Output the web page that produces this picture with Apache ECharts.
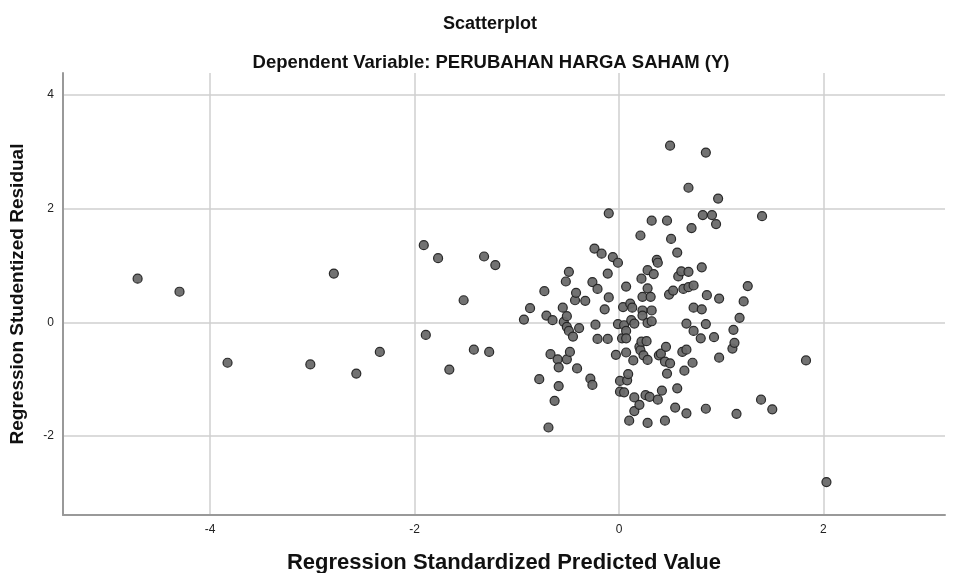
<!DOCTYPE html>
<html>
<head>
<meta charset="utf-8">
<script src="https://cdn.jsdelivr.net/npm/echarts@6/dist/echarts.min.js"></script>
<style>
  html, body { margin: 0; padding: 0; background: #fff; overflow: hidden; }
  #main { width: 959px; height: 573px; }
</style>
</head>
<body>
<div id="main"></div>
<script>
// values (x = predicted, y = residual)
const predicted = [
  -4.71, -4.30, -3.83, -3.02, -2.79, -2.57, -2.34, -1.91, -1.89, -1.77,
  -1.66, -1.52, -1.42, -1.32, -1.27, -1.21, -0.93, -0.87, -0.78, -0.73,
  -0.71, -0.69, -0.67, -0.65, -0.63, -0.60, -0.59, -0.59, -0.55, -0.54,
  -0.51, -0.51, -0.52, -0.51, -0.49, -0.49, -0.48, -0.45, -0.43, -0.42,
  -0.41, -0.39, -0.33, -0.28, -0.26, -0.26, -0.24, -0.23, -0.21, -0.21,
  -0.17, -0.14, -0.11, -0.11, -0.10, -0.10, -0.06, -0.03, -0.01, -0.01,
  0.01, 0.01, 0.03, 0.04, 0.05, 0.05, 0.07, 0.07, 0.07, 0.07,
  0.08, 0.09, 0.10, 0.11, 0.12, 0.13, 0.14, 0.15, 0.15, 0.15,
  0.20, 0.20, 0.21, 0.21, 0.22, 0.22, 0.23, 0.23, 0.23, 0.24,
  0.27, 0.26, 0.28, 0.28, 0.28, 0.28, 0.28, 0.30, 0.31, 0.32,
  0.32, 0.32, 0.34, 0.37, 0.38, 0.38, 0.39, 0.41, 0.42, 0.45,
  0.45, 0.46, 0.47, 0.47, 0.49, 0.50, 0.50, 0.51, 0.53, 0.55,
  0.57, 0.57, 0.58, 0.61, 0.62, 0.63, 0.64, 0.66, 0.66, 0.66,
  0.68, 0.68, 0.68, 0.71, 0.72, 0.73, 0.73, 0.73, 0.80, 0.81,
  0.81, 0.82, 0.85, 0.85, 0.85, 0.86, 0.91, 0.93, 0.95, 0.97,
  0.98, 0.98, 1.11, 1.12, 1.13, 1.15, 1.18, 1.22, 1.26, 1.39,
  1.40, 1.50, 1.83, 2.03
];
const residual = [
  0.77, 0.54, -0.71, -0.74, 0.86, -0.90, -0.52, 1.36, -0.22, 1.13,
  -0.83, 0.39, -0.48, 1.16, -0.52, 1.01, 0.05, 0.25, -1.00, 0.55,
  0.12, -1.85, -0.56, 0.04, -1.38, -0.65, -0.79, -1.12, 0.26, 0.01,
  0.11, -0.08, 0.72, -0.65, 0.89, -0.15, -0.52, -0.25, 0.39, 0.52,
  -0.81, -0.10, 0.38, -0.99, -1.10, 0.71, 1.30, -0.04, 0.59, -0.29,
  1.21, 0.23, -0.29, 0.86, 1.92, 0.44, 1.15, -0.57, 1.05, -0.03,
  -1.03, -1.22, -0.28, 0.27, -0.05, -1.23, 0.63, -0.53, -0.15, -0.28,
  -1.02, -0.91, -1.73, 0.33, 0.04, 0.26, -0.67, -0.02, -1.56, -1.32,
  -1.45, -0.43, -0.49, 1.53, -0.34, 0.77, 0.45, 0.21, 0.12, -0.58,
  -0.33, -1.28, 0.60, -1.77, 0.92, -0.01, -0.66, -1.31, 0.45, 1.79,
  0.21, 0.02, 0.85, 1.10, 1.05, -1.36, -0.58, -0.55, -1.20, -1.73,
  -0.69, -0.43, 1.79, -0.90, 0.49, -0.72, 3.11, 1.47, 0.56, -1.50,
  1.23, -1.16, 0.81, 0.90, -0.52, 0.59, -0.85, -0.02, -0.48, -1.60,
  0.89, 2.37, 0.62, 1.66, -0.71, 0.65, 0.26, -0.15, -0.28, 0.97,
  0.23, 1.89, 2.99, -0.03, -1.52, 0.48, 1.89, -0.26, 1.73, 2.18,
  0.42, -0.62, -0.46, -0.13, -0.36, -1.61, 0.08, 0.37, 0.64, -1.36,
  1.87, -1.53, -0.67, -2.81
];
const xTicks = [-4, -2, 0, 2];
const yTicks = [-2, 0, 2, 4];

const points = predicted.map((x, i) => [x, residual[i]]);

const myChart = echarts.init(document.getElementById("main"));

const options = {
  animation: false,
  backgroundColor: "#fff",
  textStyle: { fontFamily: "Liberation Sans, Arial, sans-serif" },
  title: [
    {
      text: "Scatterplot",
      left: 485, top: 10, textAlign: "center",
      textStyle: { fontSize: 18, fontWeight: "bold", color: "#111" }
    },
    {
      text: "Dependent Variable: PERUBAHAN HARGA SAHAM (Y)",
      left: 486, top: 48, textAlign: "center",
      textStyle: { fontSize: 18.5, fontWeight: "bold", color: "#111" }
    }
  ],
  grid: { left: 63, right: 14, top: 73, bottom: 58, outerBoundsMode: "none" },
  xAxis: {
    type: "value",
    min: -5.44, max: 3.19,
    name: "Regression Standardized Predicted Value",
    nameLocation: "middle", nameGap: 37,
    nameTextStyle: { fontSize: 22, fontWeight: "bold", color: "#111" },
    axisLine: { show: true, onZero: false, lineStyle: { color: "#999", width: 2 } },
    axisTick: { show: false, customValues: xTicks },
    axisLabel: { customValues: xTicks, color: "#222", fontSize: 12, margin: 9 },
    splitLine: { show: true, lineStyle: { color: "#cfcfcf", width: 1.5 } }
  },
  yAxis: {
    type: "value",
    min: -3.39, max: 4.39,
    name: "Regression Studentized Residual",
    nameLocation: "middle", nameGap: 36,
    nameTextStyle: { fontSize: 19, fontWeight: "bold", color: "#111" },
    axisLine: { show: true, onZero: false, lineStyle: { color: "#999", width: 2 } },
    axisTick: { show: false, customValues: yTicks },
    axisLabel: { customValues: yTicks, color: "#222", fontSize: 12, margin: 9 },
    splitLine: { show: true, lineStyle: { color: "#cfcfcf", width: 1.5 } }
  },
  series: [
    {
      type: "scatter",
      data: points,
      symbol: "circle",
      symbolSize: 9,
      itemStyle: { color: "#6a6a6a", borderColor: "#222", borderWidth: 1.2, opacity: 0.95 }
    }
  ]
};

myChart.setOption(options);
</script>
</body>
</html>
